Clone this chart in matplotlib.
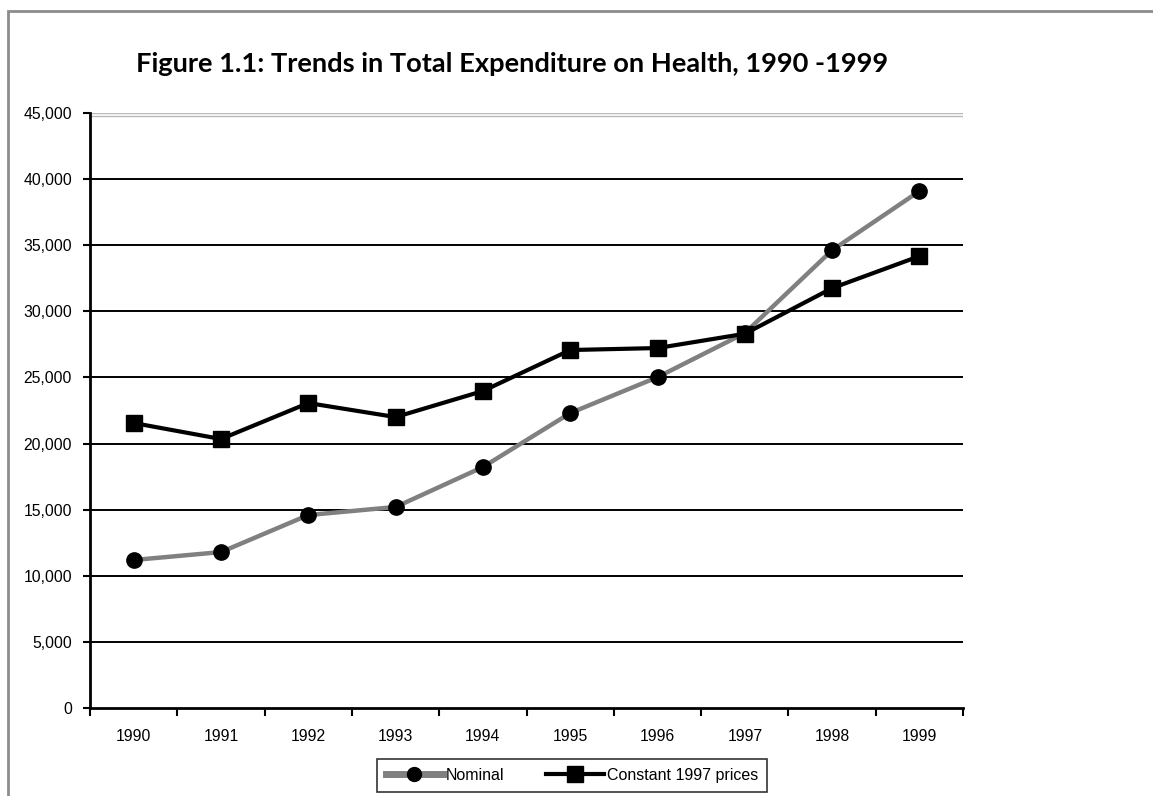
import matplotlib.pyplot as plt
from matplotlib.patches import Rectangle
from matplotlib.lines import Line2D
from matplotlib.ticker import FuncFormatter, FixedLocator

years = ['1990', '1991', '1992', '1993', '1994', '1995', '1996', '1997', '1998', '1999']
nominal = [11190, 11790, 14590, 15200, 18220, 22300, 25020, 28350, 34620, 39090]
constant_1997 = [21550, 20340, 23060, 22000, 23970, 27070, 27220, 28300, 31750, 34170]

plt.rcParams['font.family'] = ['Liberation Sans', 'DejaVu Sans']

fig = plt.figure(figsize=(11.53, 7.96), dpi=100)
ax = fig.add_axes([0.0781, 0.1106, 0.7572, 0.7475])

x = list(range(len(years)))
ax.plot(x, nominal, color='#808080', lw=3.2, marker='o', ms=11,
        mfc='black', mec='black', label='Nominal', zorder=3)
ax.plot(x, constant_1997, color='black', lw=3, marker='s', ms=12,
        mfc='black', mec='black', label='Constant 1997 prices', zorder=4)

ax.set_xlim(-0.5, len(years) - 0.5)
ax.set_ylim(0, 45000)

# horizontal gridlines, top one drawn as a light double rule
for v in range(5000, 45000, 5000):
    ax.axhline(v, color='black', lw=1.4, zorder=1)
ax.axhline(45000, color='#b8b8b8', lw=1, zorder=1)
ax.axhline(45000 - 230, color='#b8b8b8', lw=1, zorder=1)

ax.set_yticks(range(0, 45001, 5000))
ax.yaxis.set_major_formatter(FuncFormatter(lambda v, p: f'{int(v):,}'))
ax.xaxis.set_major_locator(FixedLocator([i - 0.5 for i in range(len(years) + 1)]))
ax.xaxis.set_minor_locator(FixedLocator(x))
ax.set_xticklabels([])
ax.set_xticklabels(years, minor=True)
ax.tick_params(axis='x', which='major', direction='out', length=6, width=1.5, color='black')
ax.tick_params(axis='x', which='minor', length=0, pad=15, labelsize=11.3)
ax.tick_params(axis='y', direction='out', length=5, width=1.5, labelsize=11.3, pad=8)

for side in ['top', 'right']:
    ax.spines[side].set_visible(False)
for side in ['left', 'bottom']:
    ax.spines[side].set_linewidth(2)
    ax.spines[side].set_color('black')

fig.text(0.444, 0.919, 'Figure 1.1: Trends in Total Expenditure on Health, 1990 -1999',
         ha='center', va='center', fontsize=19.6, fontweight='bold',
         family=['Lato', 'DejaVu Sans'])

handles = [
    Line2D([], [], color='#808080', lw=5, marker='o', ms=10, mfc='black', mec='black'),
    Line2D([], [], color='black', lw=3, marker='s', ms=11, mfc='black', mec='black'),
]
leg = fig.legend(handles, ['Nominal', 'Constant 1997 prices'], loc='center',
                 bbox_to_anchor=(0.496, 0.0257), ncol=2, frameon=True, fancybox=False,
                 fontsize=11.5, handlelength=3.6, handletextpad=0.2, columnspacing=2.6,
                 borderpad=0.55, borderaxespad=0, edgecolor='black')
leg.get_frame().set_linewidth(1.2)

# outer chart border
fig.patches.append(Rectangle((0.0069, -0.2), 1.2, 1.1862, transform=fig.transFigure,
                             fill=False, edgecolor='#8c8c8c', lw=2, clip_on=False))

fig.savefig('out.png', dpi=100)
